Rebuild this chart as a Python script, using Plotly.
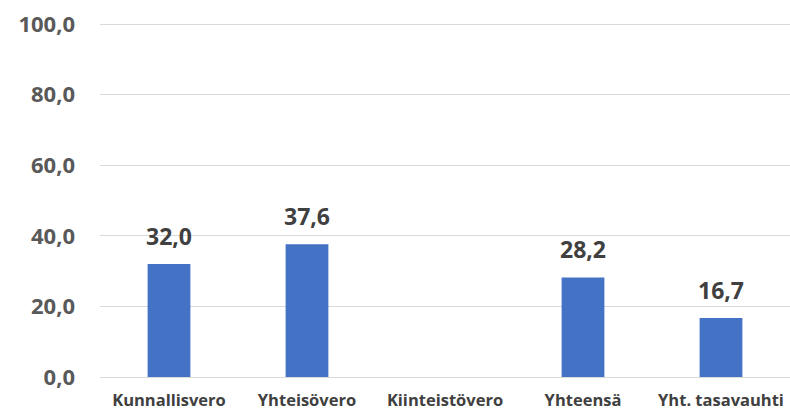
import plotly.graph_objects as go

categories = ["Kunnallisvero", "Yhteisövero", "Kiinteistövero", "Yhteensä", "Yht. tasavauhti"]
values = [32.0, 37.6, None, 28.2, 16.7]
y_ticks = [0, 20, 40, 60, 80, 100]

fig = go.Figure(go.Bar(
    x=categories, y=values,
    marker=dict(color="#4472C4", line=dict(width=0)),
    width=0.31,
    hoverinfo="x+y",
))

for c, v in zip(categories, values):
    if v is None:
        continue
    fig.add_annotation(
        x=c, y=v, text=f"{v:.1f}".replace(".", ","),
        showarrow=False, yanchor="bottom", yshift=10,
        font=dict(family="Open Sans", size=23, color="#404040", weight="bold"),
    )

fig.update_layout(
    width=790, height=412,
    margin=dict(l=100, r=0, t=23, b=35, autoexpand=False),
    paper_bgcolor="white", plot_bgcolor="white",
    separators=", ",
    showlegend=False,
    font=dict(family="Open Sans"),
)
fig.update_yaxes(
    range=[0, 100.3], tickvals=y_ticks, tickformat=".1f",
    showgrid=True, gridcolor="#d9d9d9", gridwidth=1,
    zeroline=True, zerolinecolor="#d9d9d9", zerolinewidth=1,
    ticks="", ticklabelstandoff=24,
    tickfont=dict(family="Open Sans", size=22, color="#595959", weight="bold"),
)
fig.update_xaxes(
    showgrid=False, showline=False, ticks="", ticklabelstandoff=11,
    tickfont=dict(family="Open Sans", size=16.5, color="#404040", weight="bold"),
)
fig.write_html(
    "out.html",
    config={"displayModeBar": False},
    post_script="document.body.style.margin='0';document.body.style.overflow='hidden';",
)
